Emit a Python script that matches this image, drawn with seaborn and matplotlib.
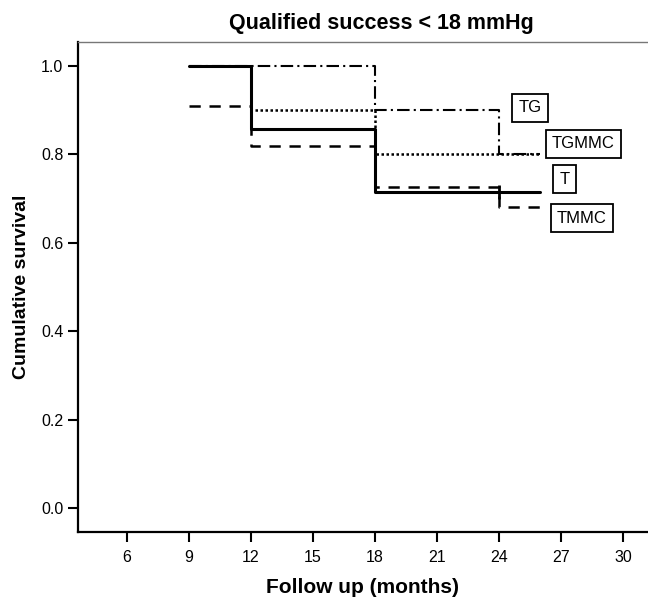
import matplotlib
matplotlib.use("Agg")
import matplotlib.pyplot as plt
import seaborn as sns
import pandas as pd

# Kaplan-Meier step values
t_x = [9, 12, 18, 26]
t_y = [1.0, 0.857, 0.714, 0.714]
tmmc_x = [9, 12, 18, 24, 26]
tmmc_y = [0.909, 0.818, 0.727, 0.682, 0.682]
tg_x = [9, 18, 24, 26]
tg_y = [1.0, 0.9, 0.8, 0.8]
tgmmc_x = [9, 12, 18, 26]
tgmmc_y = [1.0, 0.9, 0.8, 0.8]
censor_x = [24]
censor_y = [0.714]

group_labels = ["TG", "TGMMC", "T", "TMMC"]
label_x = [25.5, 28.07, 27.15, 28.0]
label_y = [0.905, 0.824, 0.744, 0.656]

x_ticks = [6, 9, 12, 15, 18, 21, 24, 27, 30]
y_ticks = [0.0, 0.2, 0.4, 0.6, 0.8, 1.0]

sns.set_style("white")
plt.rcParams['font.family'] = ['Liberation Sans', 'DejaVu Sans']
for key in ["text.color", "axes.labelcolor", "xtick.color", "ytick.color"]:
    plt.rcParams[key] = "black"

fig = plt.figure(figsize=(6.48, 6.01), dpi=100)
ax = fig.add_axes([78 / 648, 69 / 601, 570 / 648, 490 / 601])

curves = [
    (tg_x, tg_y, (0, (6, 2, 1, 2)), 1.5),
    (tgmmc_x, tgmmc_y, (0, (1, 1.0)), 1.8),
    (tmmc_x, tmmc_y, (0, (4.5, 3.5)), 1.8),
    (t_x, t_y, "-", 2.2),
]
for xs, ys, ls, lw in curves:
    df = pd.DataFrame({"time": xs, "surv": ys})
    sns.lineplot(data=df, x="time", y="surv", drawstyle="steps-post",
                 color="black", linestyle=ls, lw=lw, estimator=None, ax=ax)

# censored observation mark
sns.scatterplot(x=censor_x, y=censor_y, marker="|", s=90, color="black",
                linewidth=2, ax=ax)

for lab, lx, ly in zip(group_labels, label_x, label_y):
    ax.text(lx, ly, lab, fontsize=12, ha="center", va="center",
            bbox=dict(boxstyle="square,pad=0.38", fc="white", ec="black", lw=1.3))

ax.set_xlim(3.63, 31.2)
ax.set_ylim(-0.054, 1.054)
ax.set_xticks(x_ticks)
ax.set_yticks(y_ticks)
ax.set_yticklabels([f"{v:.1f}" for v in y_ticks])
ax.tick_params(axis="both", direction="out", length=7, width=1.5,
               labelsize=11.5, left=True, bottom=True)
ax.tick_params(axis="y", pad=3.5)
ax.tick_params(axis="x", pad=6)

for side in ["left", "bottom"]:
    ax.spines[side].set_color("black")
    ax.spines[side].set_linewidth(1.6)
ax.spines["top"].set_color("#777777")
ax.spines["top"].set_linewidth(1.0)
ax.spines["right"].set_visible(False)

ax.set_xlabel("Follow up (months)", fontsize=15, fontweight="bold", labelpad=9)
ax.set_ylabel("Cumulative survival", fontsize=14, fontweight="bold", labelpad=8)
ax.set_title("Qualified success < 18 mmHg", fontsize=15.5, fontweight="bold",
             x=0.532, pad=9)

fig.savefig("out.png", dpi=100)
